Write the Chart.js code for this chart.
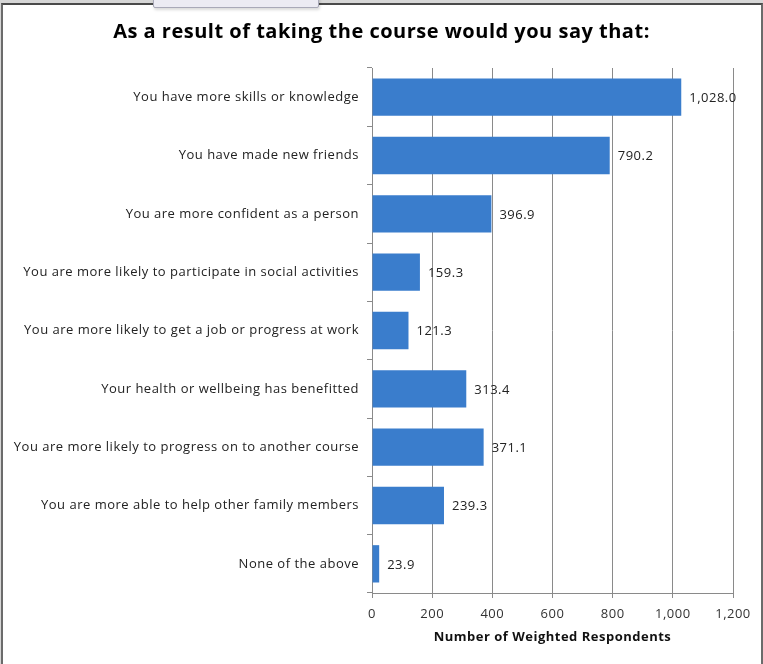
<!DOCTYPE html>
<html>
<head>
<meta charset="utf-8">
<script src="https://cdn.jsdelivr.net/npm/chart.js@4/dist/chart.umd.min.js"></script>
<style>
  html, body { margin: 0; padding: 0; background: #d6d6d6; }
  #wrap { position: relative; width: 763px; height: 664px; overflow: hidden; }
  #sheet {
    position: absolute; left: 1px; top: 3px; width: 758px; height: 670px;
    background: #fff; border-left: 2px solid #6b6b6b; border-top: 2px solid #4a4a4a;
    border-right: 2px solid #6b6b6b;
  }
  #tab {
    position: absolute; left: 153px; top: -4px; width: 164px; height: 10px;
    background: #ecebf3; border: 1px solid #a9a9b8; border-radius: 2px;
    box-shadow: 1px 2px 3px rgba(0,0,0,0.15);
  }
  canvas { position: absolute; left: 0; top: 0; }
</style>
</head>
<body>
<div id="wrap">
  <div id="sheet"></div>
  <div id="tab"></div>
  <canvas id="chart" width="763" height="664"></canvas>
</div>
<script>
const categories = [
  'You have more skills or knowledge',
  'You have made new friends',
  'You are more confident as a person',
  'You are more likely to participate in social activities',
  'You are more likely to get a job or progress at work',
  'Your health or wellbeing has benefitted',
  'You are more likely to progress on to another course',
  'You are more able to help other family members',
  'None of the above'
];
const respondents = [1028.0, 790.2, 396.9, 159.3, 121.3, 313.4, 371.1, 239.3, 23.9];
const xTicks = [0, 200, 400, 600, 800, 1000, 1200];
const chartTitle = 'As a result of taking the course would you say that:';

const FONT = '"Open Sans", sans-serif';
const fmt = (v, d) => v.toLocaleString('en-US', { minimumFractionDigits: d, maximumFractionDigits: d });

// slightly loose tracking for all canvas text
const tracking = {
  id: 'tracking',
  beforeDraw(chart) { chart.ctx.letterSpacing = '0.5px'; }
};

// heading centred on the full canvas, not just the plot area
const heading = {
  id: 'heading',
  afterDraw(chart) {
    const ctx = chart.ctx;
    ctx.save();
    ctx.font = 'bold 20px ' + FONT;
    ctx.fillStyle = '#000';
    ctx.textAlign = 'center';
    ctx.textBaseline = 'middle';
    ctx.fillText(chartTitle, chart.width / 2, 32);
    ctx.restore();
  }
};

// value labels just past the end of each bar
const barValues = {
  id: 'barValues',
  afterDatasetsDraw(chart) {
    const ctx = chart.ctx;
    const meta = chart.getDatasetMeta(0);
    ctx.save();
    ctx.font = '13px ' + FONT;
    ctx.fillStyle = '#222';
    ctx.textBaseline = 'middle';
    meta.data.forEach((bar, i) => {
      ctx.fillText(fmt(respondents[i], 1), bar.x + 8, bar.y + 1);
    });
    ctx.restore();
  }
};

new Chart(document.getElementById('chart'), {
  type: 'bar',
  data: {
    labels: categories,
    datasets: [{
      data: respondents,
      backgroundColor: '#3a7dcc',
      borderWidth: 0,
      categoryPercentage: 1,
      barPercentage: 0.64
    }]
  },
  options: {
    indexAxis: 'y',
    responsive: false,
    animation: false,
    layout: { padding: { left: 0, right: 30, top: 68, bottom: 0 } },
    plugins: {
      legend: { display: false },
      tooltip: { enabled: false },
      title: { display: false }
    },
    scales: {
      x: {
        min: 0,
        max: 1200,
        afterBuildTicks(scale) { scale.ticks = xTicks.map(v => ({ value: v })); },
        afterFit(scale) { scale.height = 71; },
        grid: { color: '#8a8a8a', lineWidth: 1, tickLength: 5 },
        border: { color: '#8a8a8a' },
        ticks: {
          color: '#333',
          padding: 8,
          font: { family: FONT, size: 13 },
          callback: v => fmt(v, 0)
        },
        title: {
          display: true,
          text: 'Number of Weighted Respondents',
          color: '#111',
          font: { family: FONT, size: 13, weight: 'bold' },
          padding: { top: 2, bottom: 19 }
        }
      },
      y: {
        afterFit(scale) { scale.width = 372; },
        grid: { drawOnChartArea: false, color: '#8a8a8a', tickLength: 5, offset: true },
        border: { color: '#8a8a8a' },
        ticks: {
          color: '#222',
          padding: 8,
          font: { family: FONT, size: 13 }
        }
      }
    }
  },
  plugins: [tracking, heading, barValues]
});
</script>
</body>
</html>
